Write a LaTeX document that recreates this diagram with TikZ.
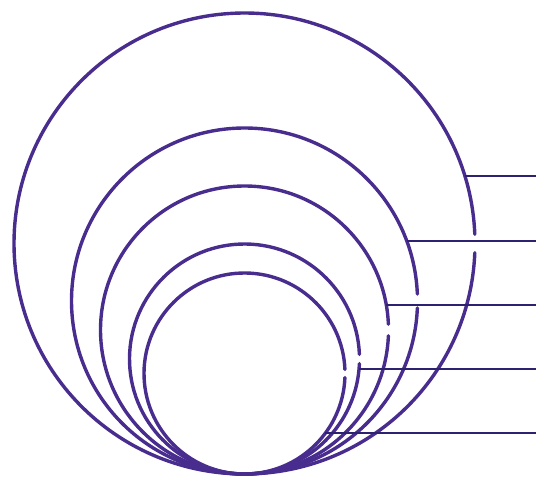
\documentclass[tikz,border=0pt]{standalone}
\usetikzlibrary{calc}
\definecolor{ringc}{HTML}{482D8F}
\definecolor{leadc}{HTML}{2D2270}
\begin{document}
\begin{tikzpicture}[x=1pt,y=1pt,
  ring/.style={draw=ringc,line width=3.4pt,line cap=round},
  lead/.style={draw=leadc,line width=1.9pt}]
\useasboundingbox (0,0) rectangle (537,476);
% circle centres and radii
\def\gap{2.3}
\foreach \n/\cy/\r in {1/232.5/230.5,2/175/173,3/146/144,4/117/115,5/102.5/100.5}{
  \coordinate (c\n) at (244.5,\cy);
  \draw[ring] ($(c\n)+(\gap:\r)$) arc[start angle=\gap,end angle={360-\gap},radius=\r];
}
% lead line start points (on circles) and end points (right edge)
\foreach \n/\cy/\r/\y in {1/232.5/230.5/300,2/175/173/235,3/146/144/171,4/117/115/107,5/102.5/100.5/43}{
  \coordinate (s\n) at ({244.5+\r*cos(asin((\y-\cy)/\r))},\y);
  \coordinate (e\n) at (536,\y);
}
\draw[lead] (s1) -- (e1);
\draw[lead] (s2) -- (e2);
\draw[lead] (s3) -- (e3);
\draw[lead] (s4) -- (e4);
\draw[lead] (s5) -- (e5);
\end{tikzpicture}
\end{document}
